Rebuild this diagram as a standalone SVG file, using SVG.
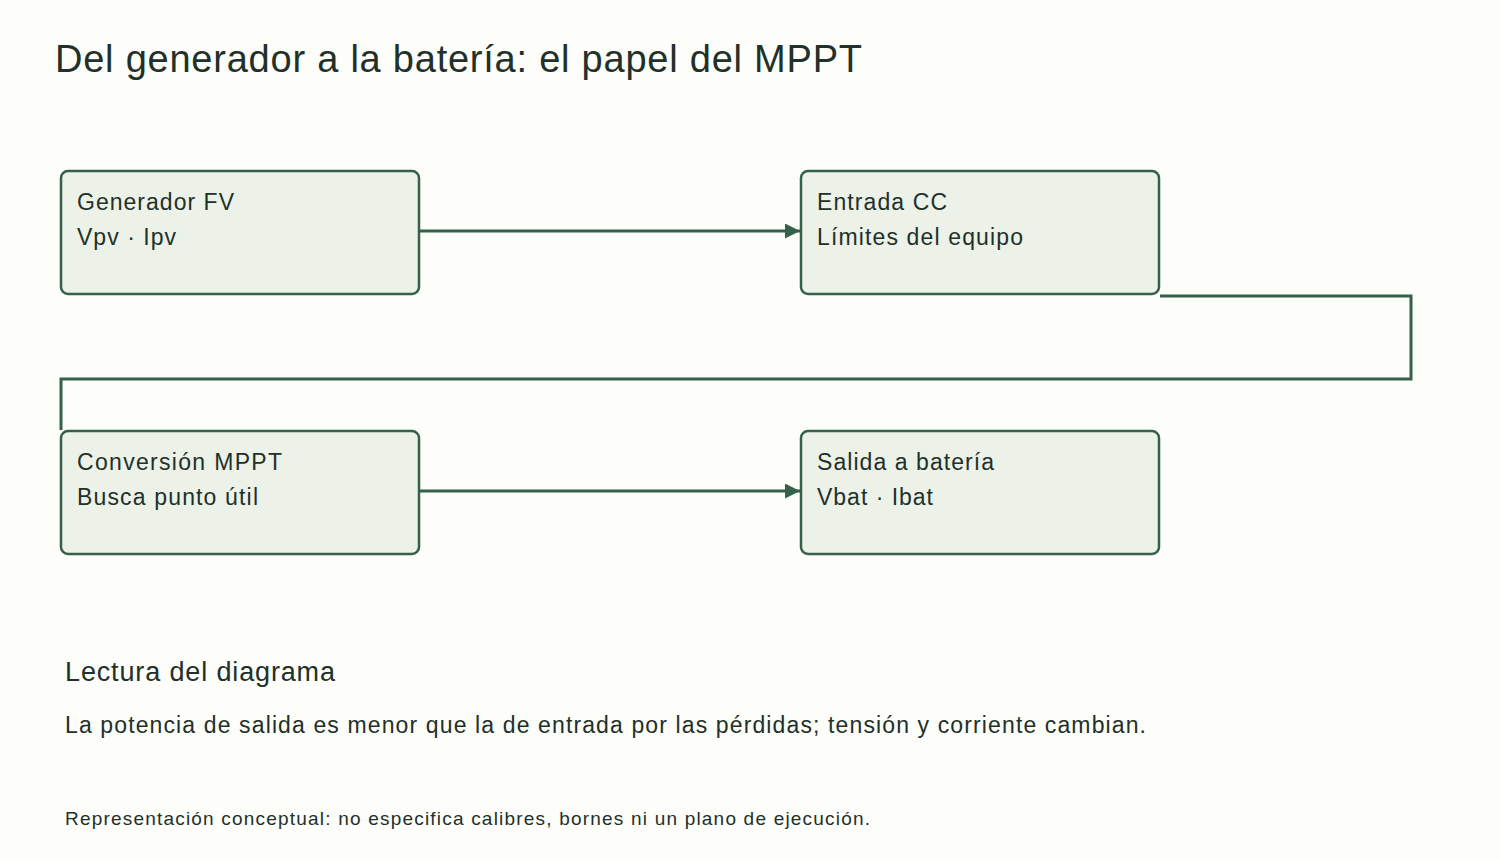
<svg xmlns="http://www.w3.org/2000/svg" width="1500" height="860" viewBox="0 0 1500 860">
<defs>
<style>
.n{fill:#ecf2e8;stroke:#35614a;stroke-width:2.5}
.t{font-family:"Liberation Sans",Arial,sans-serif;fill:#22302a}
.c{fill:none;stroke:#35614a;stroke-width:3}
</style>
<marker id="a" viewBox="0 0 10 10" refX="10" refY="5" markerWidth="5" markerHeight="5" orient="auto" markerUnits="strokeWidth"><path d="M0,0L10,5L0,10z" fill="#35614a"/></marker>
</defs>
<rect width="1500" height="860" fill="#fdfdf9"/>
<text class="t" x="55" y="72" font-size="38" textLength="807" lengthAdjust="spacing">Del generador a la batería: el papel del MPPT</text>
<g id="connectors">
<path class="c" d="M420 231H800" marker-end="url(#a)"/>
<path class="c" d="M420 491H800" marker-end="url(#a)"/>
<path class="c" d="M1160 296H1411V379H61V430"/>
</g>
<g id="n1"><rect class="n" x="61" y="171" width="358" height="123" rx="7"/><text class="t" font-size="23" x="77" y="210" textLength="157" lengthAdjust="spacing">Generador FV</text><text class="t" font-size="23" x="77" y="245" textLength="99" lengthAdjust="spacing">Vpv · Ipv</text></g>
<g id="n2"><rect class="n" x="801" y="171" width="358" height="123" rx="7"/><text class="t" font-size="23" x="817" y="210" textLength="130" lengthAdjust="spacing">Entrada CC</text><text class="t" font-size="23" x="817" y="245" textLength="206" lengthAdjust="spacing">Límites del equipo</text></g>
<g id="n3"><rect class="n" x="61" y="431" width="358" height="123" rx="7"/><text class="t" font-size="23" x="77" y="470" textLength="205" lengthAdjust="spacing">Conversión MPPT</text><text class="t" font-size="23" x="77" y="505" textLength="181" lengthAdjust="spacing">Busca punto útil</text></g>
<g id="n4"><rect class="n" x="801" y="431" width="358" height="123" rx="7"/><text class="t" font-size="23" x="817" y="470" textLength="177" lengthAdjust="spacing">Salida a batería</text><text class="t" font-size="23" x="817" y="505" textLength="116" lengthAdjust="spacing">Vbat · Ibat</text></g>
<text class="t" x="65" y="681" font-size="27" textLength="270" lengthAdjust="spacing">Lectura del diagrama</text>
<text class="t" x="65" y="733" font-size="23" textLength="1081" lengthAdjust="spacing">La potencia de salida es menor que la de entrada por las pérdidas; tensión y corriente cambian.</text>
<text class="t" x="65" y="825" font-size="19" textLength="805" lengthAdjust="spacing">Representación conceptual: no especifica calibres, bornes ni un plano de ejecución.</text>
</svg>
